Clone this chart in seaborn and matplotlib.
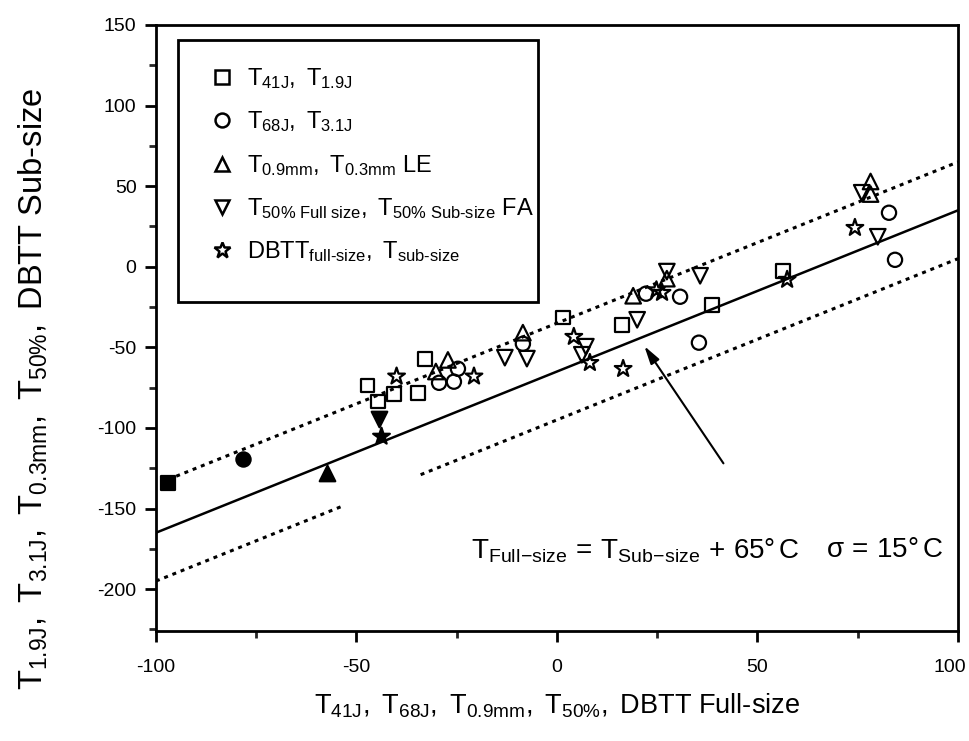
import numpy as np
import pandas as pd
import matplotlib
matplotlib.use("Agg")
import matplotlib.pyplot as plt
import matplotlib.transforms as mtrans
import seaborn as sns
from matplotlib.lines import Line2D
from matplotlib.patches import Rectangle
from matplotlib.ticker import MultipleLocator

# ---- data ----
sq_x = [-47.2, -44.6, -40.6, -34.7, -32.9, 1.5, 16.2, 38.7, 56.4]
sq_y = [-73.8, -83.7, -78.8, -78.2, -57.1, -31.6, -36.0, -23.6, -2.5]
sq_fx = [-97.0]
sq_fy = [-134.0]

ci_x = [-29.4, -25.7, -24.7, -8.5, 22.2, 30.7, 35.4, 82.8, 84.3]
ci_y = [-72.0, -71.3, -63.3, -47.8, -16.7, -18.6, -47.1, 33.5, 4.3]
ci_fx = [-78.3]
ci_fy = [-119.0]

tu_x = [-30.2, -27.2, -8.5, 19.0, 27.4, 78.2, 78.2]
tu_y = [-65.0, -57.8, -40.9, -18.0, -7.4, 52.9, 45.1]
tu_fx = [-57.4]
tu_fy = [-127.8]

td_x = [-13.0, -7.5, 7.2, 6.2, 20.0, 27.4, 35.7, 76.0, 80.0]
td_y = [-56.4, -57.0, -49.6, -54.6, -32.9, -3.0, -5.6, 45.9, 18.6]
td_fx = [-44.4]
td_fy = [-94.3]

st_x = [-40.0, -20.7, 4.2, 8.2, 16.5, 24.8, 26.2, 57.4, 74.3]
st_y = [-68.0, -68.0, -43.4, -59.6, -63.3, -14.5, -16.1, -8.0, 24.2]
st_fx = [-43.9]
st_fy = [-104.8]

labels = [
    r"$\mathregular{T_{41J},\ T_{1.9J}}$",
    r"$\mathregular{T_{68J},\ T_{3.1J}}$",
    r"$\mathregular{T_{0.9mm},\ T_{0.3mm}}$ LE",
    r"$\mathregular{T_{50\%\ Full\ size},\ T_{50\%\ Sub\text{-}size}}$ FA",
    r"$\mathregular{DBTT_{full\text{-}size},\ T_{sub\text{-}size}}$",
]

fit_offset = -65.0
band = 30.0
upper_x = [-97.0, 100.0]
lower_x1 = [-100.0, -53.0]
lower_x2 = [-34.0, 100.0]
fit_x = [-100.0, 100.0]

# ---- style ----
sns.set_theme(style="ticks")
FONT = "Liberation Sans"
plt.rcParams['font.family'] = [FONT, 'DejaVu Sans']
plt.rcParams['mathtext.fontset'] = 'custom'
plt.rcParams['mathtext.rm'] = FONT
plt.rcParams['mathtext.it'] = FONT
plt.rcParams['mathtext.sf'] = FONT
plt.rcParams['text.color'] = 'black'
plt.rcParams['axes.labelcolor'] = 'black'

fig = plt.figure(figsize=(9.7, 7.41), dpi=100)
ax = fig.add_axes([0.1608, 0.1484, 0.8268, 0.8179])

groups = [
    ("s", sq_x, sq_y, sq_fx, sq_fy, 95),
    ("o", ci_x, ci_y, ci_fx, ci_fy, 105),
    ("^", tu_x, tu_y, tu_fx, tu_fy, 125),
    ("v", td_x, td_y, td_fx, td_fy, 125),
    ("*", st_x, st_y, st_fx, st_fy, 160),
]
for m, x, y, fx, fy, s in groups:
    df = pd.DataFrame({"x": x, "y": y})
    sns.scatterplot(data=df, x="x", y="y", marker=m, s=s, facecolor="none",
                    edgecolor="black", linewidth=1.6, ax=ax, zorder=3)
    dff = pd.DataFrame({"x": fx, "y": fy})
    sns.scatterplot(data=dff, x="x", y="y", marker=m, s=s, color="black",
                    edgecolor="black", linewidth=1.6, ax=ax, zorder=3)

# fit line and bands
fx_arr = np.array(fit_x)
sns.lineplot(x=fx_arr, y=fx_arr + fit_offset, color="black", lw=1.8, ax=ax)
ux = np.array(upper_x)
ax.plot(ux, ux + fit_offset + band, color="black", lw=2.2, ls=(0, (1.3, 1.6)))
for seg in (lower_x1, lower_x2):
    lx = np.array(seg)
    ax.plot(lx, lx + fit_offset - band, color="black", lw=2.2, ls=(0, (1.3, 1.6)))

ax.annotate("", xy=(21.4, -47.8), xytext=(41.9, -123.4),
            arrowprops=dict(arrowstyle="-|>,head_length=0.9,head_width=0.25",
                            color="black", lw=1.5))

ax.text(-21.5, -176, r"$\mathregular{T_{Full\!-\!size}\,=\,T_{Sub\!-\!size}\,+\,65°\,C}$",
        fontsize=20, va="center", ha="left")
ax.text(67.0, -176, r"$\mathregular{\sigma\,=\,15°\,C}$",
        fontsize=20, va="center", ha="left")

ax.set_xlim(-100, 100)
ax.set_ylim(-226, 150)
ax.xaxis.set_major_locator(MultipleLocator(50))
ax.xaxis.set_minor_locator(MultipleLocator(25))
ax.yaxis.set_major_locator(MultipleLocator(50))
ax.yaxis.set_minor_locator(MultipleLocator(25))
ax.tick_params(which="major", direction="out", length=8, width=2, labelsize=14,
               colors="black")
ax.tick_params(axis="x", which="major", pad=12)
ax.tick_params(axis="y", which="major", pad=6)
ax.tick_params(which="minor", direction="out", length=5, width=2)
ax.set_xticks([-100, -50, 0, 50, 100])
ax.set_xticklabels(["-100", "-50", "0", "50", "100"])
ax.set_yticks([-200, -150, -100, -50, 0, 50, 100, 150])
ax.set_yticklabels(["-200", "-150", "-100", "-50", "0", "50", "100", "150"])
last = ax.get_xticklabels()[-1]
last.set_transform(last.get_transform() +
                   mtrans.ScaledTranslation(-8 / 100, 0, fig.dpi_scale_trans))
for sp in ax.spines.values():
    sp.set_linewidth(2)
    sp.set_color("black")

ax.set_xlabel(r"$\mathregular{T_{41J},\ T_{68J},\ T_{0.9mm},\ T_{50\%},}$ DBTT Full-size",
              fontsize=19.5)
ax.xaxis.set_label_coords(0.5, -0.10)
ax.set_ylabel(r"$\mathregular{T_{1.9J},\ T_{3.1J},\ T_{0.3mm},\ T_{50\%},}$ DBTT Sub-size",
              fontsize=23.5)
ax.yaxis.set_label_coords(-0.132, 0.40)

# legend with a hand-placed frame
ax.add_patch(Rectangle((0.027, 0.543), 0.449, 0.432, transform=ax.transAxes,
                       fill=False, edgecolor="black", lw=2, zorder=4))
handles = [Line2D([], [], marker=m, ls="none", mfc="none", mec="black", mew=1.8,
                  ms=(12 if m == "*" else 10)) for m, *_ in groups]
leg = ax.legend(handles, labels, loc="upper left", bbox_to_anchor=(0.067, 0.932),
                frameon=False, fontsize=17, handletextpad=0.6,
                labelspacing=0.78, borderpad=0, handlelength=1.0,
                borderaxespad=0)

fig.savefig("out.png", dpi=100)
